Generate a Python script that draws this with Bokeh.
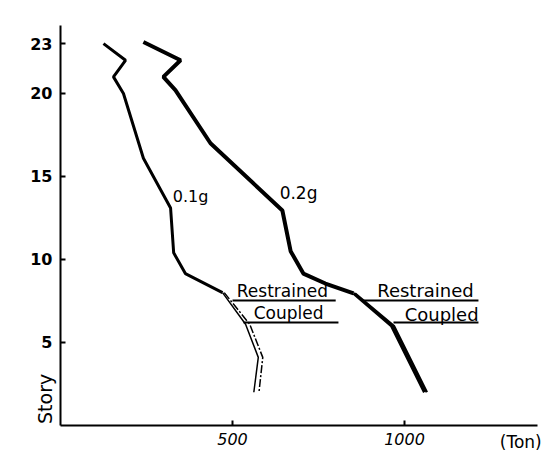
from bokeh.plotting import figure
from bokeh.models import FixedTicker, Label, Range1d, LinearAxis
from bokeh.embed import file_html
from bokeh.resources import INLINE
import math

# ---- data (story vs. shear force in Ton) ----
story_top_01 = [23, 22, 21, 20, 16.1, 13.1, 10.4, 9.15, 8.0]
force_top_01 = [125, 189, 154, 183, 241, 320, 329, 363, 471]
story_low_01 = [8.0, 6.1, 4.1, 2.0]
force_restrained_01 = [471, 538, 575, 562]
force_coupled_01 = [476, 550, 588, 577]

story_top_02 = [23.1, 22.0, 21.0, 20.2, 17.0, 12.95, 10.5, 9.15, 8.55, 7.95]
force_top_02 = [241, 349, 299, 334, 436, 645, 669, 706, 770, 852]
story_low_02 = [7.95, 6.0, 2.0]
force_restrained_02 = [852, 962, 1058]
force_coupled_02 = [856, 969, 1065]

# leader lines under the "Restrained" / "Coupled" notes
leader_story = [7.53, 6.2, 7.53, 6.2]
leader_start = [500, 532, 881, 968]
leader_end = [800, 808, 1215, 1215]

x_ticks = [500, 1000]
y_ticks = [5, 10, 15, 20, 23]

FONT = "DejaVu Sans"

p = figure(width=548, height=454, output_backend="svg", toolbar_location=None,
           x_range=Range1d(-174.4, 1418.6), y_range=Range1d(-1.75, 25.6),
           x_axis_location=None, y_axis_location=None, min_border=0)
p.outline_line_color = None
p.grid.visible = False
p.background_fill_color = "white"
p.border_fill_color = "white"

xax = LinearAxis(fixed_location=0, bounds=(0, 1387), ticker=FixedTicker(ticks=x_ticks))
yax = LinearAxis(fixed_location=0, bounds=(0, 24.1), ticker=FixedTicker(ticks=y_ticks))
for ax in (xax, yax):
    ax.axis_line_width = 2
    ax.axis_line_color = "black"
    ax.major_tick_in = 5
    ax.major_tick_out = 0
    ax.major_tick_line_width = 2
    ax.minor_tick_line_color = None
    ax.major_label_text_font = FONT
    ax.major_label_text_font_size = "16px"
    ax.major_label_text_color = "black"
xax.major_label_standoff = 8
yax.major_label_standoff = 8
xax.major_label_text_font_style = "italic"
yax.major_label_text_font_style = "bold"
p.add_layout(xax, "below")
p.add_layout(yax, "left")

# curves
p.line(force_top_01, story_top_01, line_color="black", line_width=3)
p.line(force_restrained_01, story_low_01, line_color="black", line_width=1.5)
p.line(force_coupled_01, story_low_01, line_color="black", line_width=1.5, line_dash="8 2 2 2")
p.line(force_top_02, story_top_02, line_color="black", line_width=4)
p.line(force_restrained_02, story_low_02, line_color="black", line_width=3)
p.line(force_coupled_02, story_low_02, line_color="black", line_width=2.5)

p.segment(x0=leader_start, y0=leader_story, x1=leader_end, y1=leader_story,
          line_color="black", line_width=2)

def lab(x, y, t, size, angle=0.0, align="center"):
    p.add_layout(Label(x=x, y=y, text=t, text_font=FONT, text_font_size=size,
                       text_align=align, text_baseline="middle", angle=angle,
                       text_color="black"))

lab(378, 13.8, "0.1g", "16px")
lab(692, 14.0, "0.2g", "17px")
lab(645, 8.1, "Restrained", "17px")
lab(663, 6.75, "Coupled", "17px")
lab(1061, 8.15, "Restrained", "18px")
lab(1108, 6.7, "Coupled", "18px")
lab(1338, -1.0, "(Ton)", "17px")
lab(-45, 1.6, "Story", "19px", angle=math.pi / 2)

open("out.html", "w").write(file_html(p, INLINE))
